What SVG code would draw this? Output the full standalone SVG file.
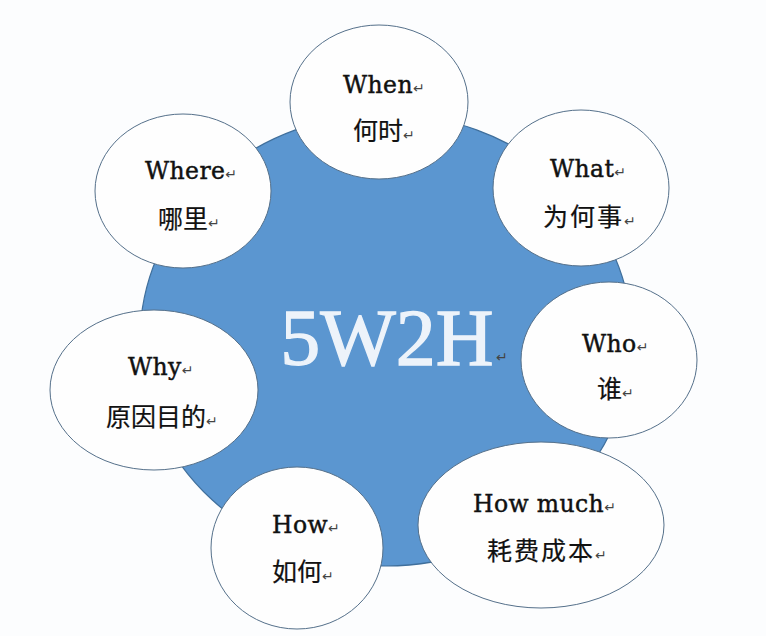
<svg xmlns="http://www.w3.org/2000/svg" width="766" height="636" viewBox="0 0 766 636">
<style>
.bub{fill:#fefefe;stroke:#55708a;stroke-width:1}
.en{font-family:"DejaVu Serif","Liberation Serif",serif;font-size:23.5px;fill:#111;stroke:#111;stroke-width:0.45;letter-spacing:0.4px}
.zh{font-family:"Noto Sans CJK SC","Noto Sans",sans-serif;font-size:25px;fill:#111;stroke:#111;stroke-width:0.2}
.rt{font-family:"DejaVu Sans",sans-serif;font-size:14px;fill:#444;stroke:none;letter-spacing:0}
</style>
<rect width="766" height="636" fill="#fcfdfe"/>
<g id="hub">
<ellipse cx="386" cy="340" rx="246" ry="226" fill="#5b96d0" stroke="#3f6f9c" stroke-width="1.2"/>
<text x="387" y="365" text-anchor="middle" font-family="'Liberation Serif',serif" font-size="80" fill="#edf3fa" stroke="#edf3fa" stroke-width="1.3">5W2H</text>
<text x="496" y="362" class="rt" font-size="9" fill="#7a9cc0">↵</text>
</g>
<g id="connectors"/>
<g id="when">
<ellipse class="bub" cx="379" cy="102" rx="89" ry="77"/>
<text class="en" x="343" y="93">When<tspan class="rt">↵</tspan></text>
<text class="zh" x="353" y="140">何时<tspan class="rt">↵</tspan></text>
</g>
<g id="what">
<ellipse class="bub" cx="581" cy="188" rx="88" ry="78"/>
<text class="en" x="550" y="177">What<tspan class="rt">↵</tspan></text>
<text class="zh" x="543" y="226" letter-spacing="2">为何事<tspan class="rt">↵</tspan></text>
</g>
<g id="where">
<ellipse class="bub" cx="183" cy="191" rx="88" ry="77"/>
<text class="en" x="145" y="179">Where<tspan class="rt">↵</tspan></text>
<text class="zh" x="158" y="228">哪里<tspan class="rt">↵</tspan></text>
</g>
<g id="who">
<ellipse class="bub" cx="609" cy="360" rx="88" ry="78"/>
<text class="en" x="582" y="352">Who<tspan class="rt">↵</tspan></text>
<text class="zh" x="597" y="398">谁<tspan class="rt">↵</tspan></text>
</g>
<g id="why">
<ellipse class="bub" cx="154" cy="390" rx="104" ry="80"/>
<text class="en" x="128" y="375">Why<tspan class="rt">↵</tspan></text>
<text class="zh" x="106" y="426" font-size="24">原因目的<tspan class="rt">↵</tspan></text>
</g>
<g id="how">
<ellipse class="bub" cx="297" cy="548" rx="86" ry="81"/>
<text class="en" x="272" y="533">How<tspan class="rt">↵</tspan></text>
<text class="zh" x="272" y="581">如何<tspan class="rt">↵</tspan></text>
</g>
<g id="howmuch">
<ellipse class="bub" cx="541" cy="525" rx="123" ry="83"/>
<text class="en" x="473" y="512">How much<tspan class="rt">↵</tspan></text>
<text class="zh" x="487" y="560" font-size="24" letter-spacing="2">耗费成本<tspan class="rt">↵</tspan></text>
</g>
</svg>
